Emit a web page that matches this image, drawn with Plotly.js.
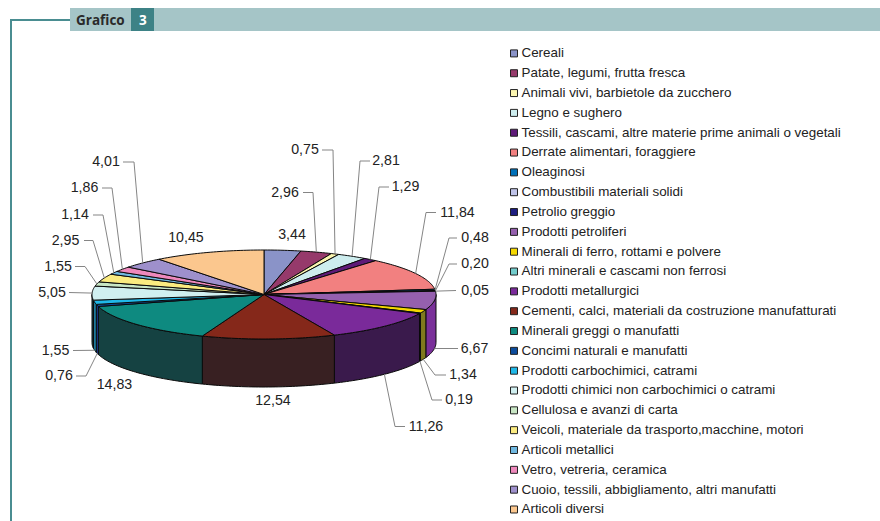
<!DOCTYPE html>
<html><head><meta charset="utf-8">
<script src="https://cdn.plot.ly/plotly-3.0.1.min.js"></script>
<style>html,body{margin:0;padding:0;background:#fff}#c{width:880px;height:521px}</style>
</head><body><div id="c"></div>
<script>
const categories = ["Cereali","Patate, legumi, frutta fresca","Animali vivi, barbietole da zucchero","Legno e sughero","Tessili, cascami, altre materie prime animali o vegetali","Derrate alimentari, foraggiere","Oleaginosi","Combustibili materiali solidi","Petrolio greggio","Prodotti petroliferi","Minerali di ferro, rottami e polvere","Altri minerali e cascami non ferrosi","Prodotti metallurgici","Cementi, calci, materiali da costruzione manufatturati","Minerali greggi o manufatti","Concimi naturali e manufatti","Prodotti carbochimici, catrami","Prodotti chimici non carbochimici o catrami","Cellulosa e avanzi di carta","Veicoli, materiale da trasporto,macchine, motori","Articoli metallici","Vetro, vetreria, ceramica","Cuoio, tessili, abbigliamento, altri manufatti","Articoli diversi"];
const values = [3.44,2.96,0.75,2.81,1.29,11.84,0.48,0.20,0.05,6.67,1.34,0.19,11.26,12.54,14.83,0.76,1.55,5.05,1.55,2.95,1.14,1.86,4.01,10.45];
const topColors = ["#8A93C8","#963A6B","#FBF5B0","#CDEDEE","#5E1A78","#F28080","#0070B8","#BFC3E8","#1E1E80","#9560AE","#F5D800","#72CCCC","#7A2A9A","#85281A","#0E8A80","#0C4C9C","#20B8E8","#D0EFF0","#C8E6C4","#FBEB80","#70B8E0","#EE88BC","#9E90CC","#FBC78E"];
const wallColors = ["#454A64","#4B1D36","#7D7A58","#667677","#2F0D3C","#794040","#00385C","#606274","#0F0F40","#7A309A","#7F7A1E","#396666","#3A1A4C","#382022","#154242","#1C3C98","#1D7A9A","#1E4A50","#647362","#7D7640","#385C70","#77445E","#4F4866","#7D6347"];
const labelX = [292,285,305,386,405.5,457.5,475,475,475,474.5,463,459,426,273,114.5,59,55.5,52,58,65.5,75,84.5,106,186];
const labelY = [235.5,193,150.5,161.5,187.5,213,238.5,264.5,291,349,375.5,400.5,427,401,385.5,376.5,351,293,267,241,215.5,188.5,162.5,238.5];
const leaderElbowX = [null,313,333,360,379,426,449,449,null,447,435,432,395,null,null,86,88,null,85,93,103,112,134,null];
const leaderEndX = [null,303,322,370,389,436,457,457,456,458,446,442,405,null,null,76,73,69,75,84,93,102,123,null];

const cx=264, cy=294.5, rx=172, ry=44.5, depth=48;
const total = values.reduce((a,b)=>a+b,0);
const pt = (a,dy=0)=>[cx+rx*Math.sin(a), cy-ry*Math.cos(a)+dy];
function arc(a0,a1,dy){const n=Math.max(2,Math.ceil((a1-a0)/0.02));const o=[];for(let i=0;i<=n;i++)o.push(pt(a0+(a1-a0)*i/n,dy));return o;}
const starts=[];let acc=0;values.forEach(v=>{starts.push(acc/total*2*Math.PI);acc+=v;});
const ends=values.map((v,i)=>starts[i]+v/total*2*Math.PI);
const poly=(pts,fill,w)=>({type:"scatter",mode:"lines",x:pts.map(p=>p[0]),y:pts.map(p=>p[1]),fill:"toself",fillcolor:fill,line:{color:"#0a0a0a",width:w,simplify:false},hoverinfo:"skip",showlegend:false});
const traces=[];
// side walls, only the visible front half
values.forEach((v,i)=>{
  const a0=Math.max(starts[i],Math.PI/2),a1=Math.min(ends[i],3*Math.PI/2);
  if(a1<=a0)return;
  const top=arc(a0,a1,0),bot=arc(a0,a1,depth).reverse();
  const pts=top.concat(bot);pts.push(top[0]);
  traces.push(poly(pts,wallColors[i],1));
});
// top face
values.forEach((v,i)=>{
  const pts=[[cx,cy]].concat(arc(starts[i],ends[i],0));pts.push([cx,cy]);
  traces.push(poly(pts,topColors[i],1));
});
// leader lines
const lx=[],ly=[];
values.forEach((v,i)=>{
  if(leaderEndX[i]===null)return;
  const m=(starts[i]+ends[i])/2;
  const p=pt(m,Math.cos(m)<0?depth:0);
  lx.push(p[0]);ly.push(p[1]);
  if(leaderElbowX[i]!==null){lx.push(leaderElbowX[i]);ly.push(labelY[i]-0.5);}
  lx.push(leaderEndX[i]);ly.push(labelY[i]-0.5);
  lx.push(null);ly.push(null);
});
traces.push({type:"scatter",mode:"lines",x:lx,y:ly,line:{color:"#858585",width:1},hoverinfo:"skip",showlegend:false});
// value labels
traces.push({type:"scatter",mode:"text",x:labelX,y:labelY,text:values.map(v=>v.toFixed(2).replace(".",",")),textposition:"middle center",textfont:{family:"Liberation Sans",size:14.2,color:"#222"},hoverinfo:"skip",showlegend:false,cliponaxis:false});
// legend
const legY=categories.map((c,i)=>53.4+i*19.83);
traces.push({type:"scatter",mode:"markers",x:categories.map(()=>514),y:legY,
  marker:{symbol:"square",size:7,color:topColors,line:{color:"#222",width:1}},hoverinfo:"skip",showlegend:false,cliponaxis:false});
traces.push({type:"scatter",mode:"text",x:categories.map(()=>521.5),y:legY.map(y=>y+0.6),text:categories,textposition:"middle right",
  textfont:{family:"Liberation Sans",size:13.4,color:"#222"},hoverinfo:"skip",showlegend:false,cliponaxis:false});

const layout={width:880,height:521,margin:{l:0,r:0,t:0,b:0},paper_bgcolor:"#fff",plot_bgcolor:"#fff",showlegend:false,
 xaxis:{range:[0,880],visible:false,fixedrange:true},
 yaxis:{range:[521,0],visible:false,fixedrange:true},
 shapes:[
  {type:"rect",xref:"x",yref:"y",x0:70,x1:880,y0:8,y1:31,fillcolor:"#A5C5C7",line:{width:0},layer:"below"},
  {type:"rect",xref:"x",yref:"y",x0:131,x1:154,y0:8,y1:31,fillcolor:"#3D8286",line:{width:0},layer:"below"},
  {type:"path",xref:"x",yref:"y",path:"M70,20 L11,20 L11,521",line:{color:"#4A8D91",width:2},layer:"below"}
 ],
 annotations:[
  {xref:"x",yref:"y",x:74,y:20,text:"<b>Grafico</b>",showarrow:false,xanchor:"left",yanchor:"middle",font:{family:"Open Sans",size:13.5,color:"#2a2a2a"}},
  {xref:"x",yref:"y",x:142.5,y:20,text:"<b>3</b>",showarrow:false,xanchor:"center",yanchor:"middle",font:{family:"Open Sans",size:13.5,color:"#fff"}}
 ]};
Plotly.newPlot("c",traces,layout,{staticPlot:true,displayModeBar:false});
</script></body></html>
